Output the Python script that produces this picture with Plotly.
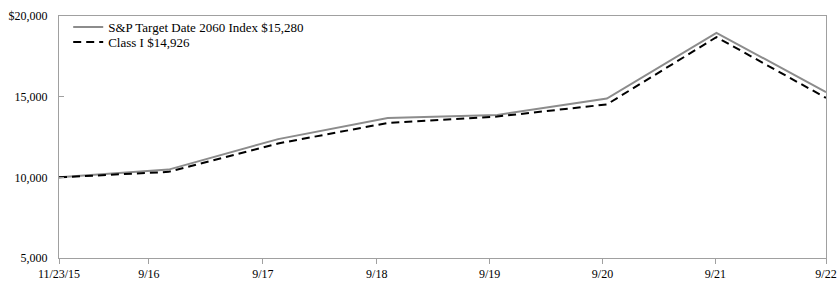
import plotly.graph_objects as go

# Data
periods = ["11/23/15", "9/16", "9/17", "9/18", "9/19", "9/20", "9/21", "9/22"]
point_index = [0, 1, 2, 3, 4, 5, 6, 7]
index_values = [10000, 10480, 12370, 13670, 13870, 14880, 18960, 15280]
class_i_values = [10000, 10340, 12100, 13370, 13770, 14520, 18690, 14926]

tick_labels = ["11/23/15", "9/16", "9/17", "9/18", "9/19", "9/20", "9/21", "9/22"]
tick_positions = [0, 0.82, 1.86, 2.90, 3.93, 4.96, 5.99, 7.0]
y_ticks = [5000, 10000, 15000, 20000]
y_tick_labels = ["5,000", "10,000", "15,000", "$20,000"]

index_name = "S&P Target Date 2060 Index $15,280"
class_name = "Class I $14,926"

FONT = "Liberation Serif"
LEG_FONT = dict(family=FONT, size=13, color="#000000")

fig = go.Figure()
fig.add_trace(go.Scatter(
    x=point_index, y=index_values, mode="lines", name=index_name,
    line=dict(color="#8c8c8c", width=2), legend="legend",
))
fig.add_trace(go.Scatter(
    x=point_index, y=class_i_values, mode="lines", name=class_name,
    line=dict(color="#000000", width=2, dash="8px,5px"), legend="legend2",
))

fig.update_layout(
    width=840, height=287,
    margin=dict(l=59, r=14, t=16, b=29, autoexpand=False),
    paper_bgcolor="white", plot_bgcolor="white",
    font=dict(family=FONT, size=12, color="#000000"),
    showlegend=True,
    legend=dict(
        x=0.012, y=1.0165, xanchor="left", yanchor="top",
        bgcolor="rgba(0,0,0,0)", borderwidth=0, font=LEG_FONT, itemwidth=30,
    ),
    legend2=dict(
        x=0.012, y=0.954, xanchor="left", yanchor="top",
        bgcolor="rgba(0,0,0,0)", borderwidth=0, font=LEG_FONT, itemwidth=30,
    ),
)
fig.update_xaxes(
    range=[0, 7], tickmode="array", tickvals=tick_positions, ticktext=tick_labels,
    showgrid=False, zeroline=False, showline=True, linecolor="#a0a0a0", linewidth=1,
    mirror=True, ticks="outside", ticklen=5, tickcolor="#a0a0a0", automargin=False,
    tickfont=dict(family=FONT, size=12, color="#000000"),
)
fig.update_yaxes(
    range=[5000, 20000], tickmode="array", tickvals=y_ticks, ticktext=y_tick_labels,
    showgrid=False, zeroline=False, showline=True, linecolor="#a0a0a0", linewidth=1,
    mirror=True, ticks="inside", ticklen=5, tickcolor="#a0a0a0", automargin=False,
    ticklabelstandoff=8,
    tickfont=dict(family=FONT, size=12, color="#000000"),
)

fig.write_html("out.html")
